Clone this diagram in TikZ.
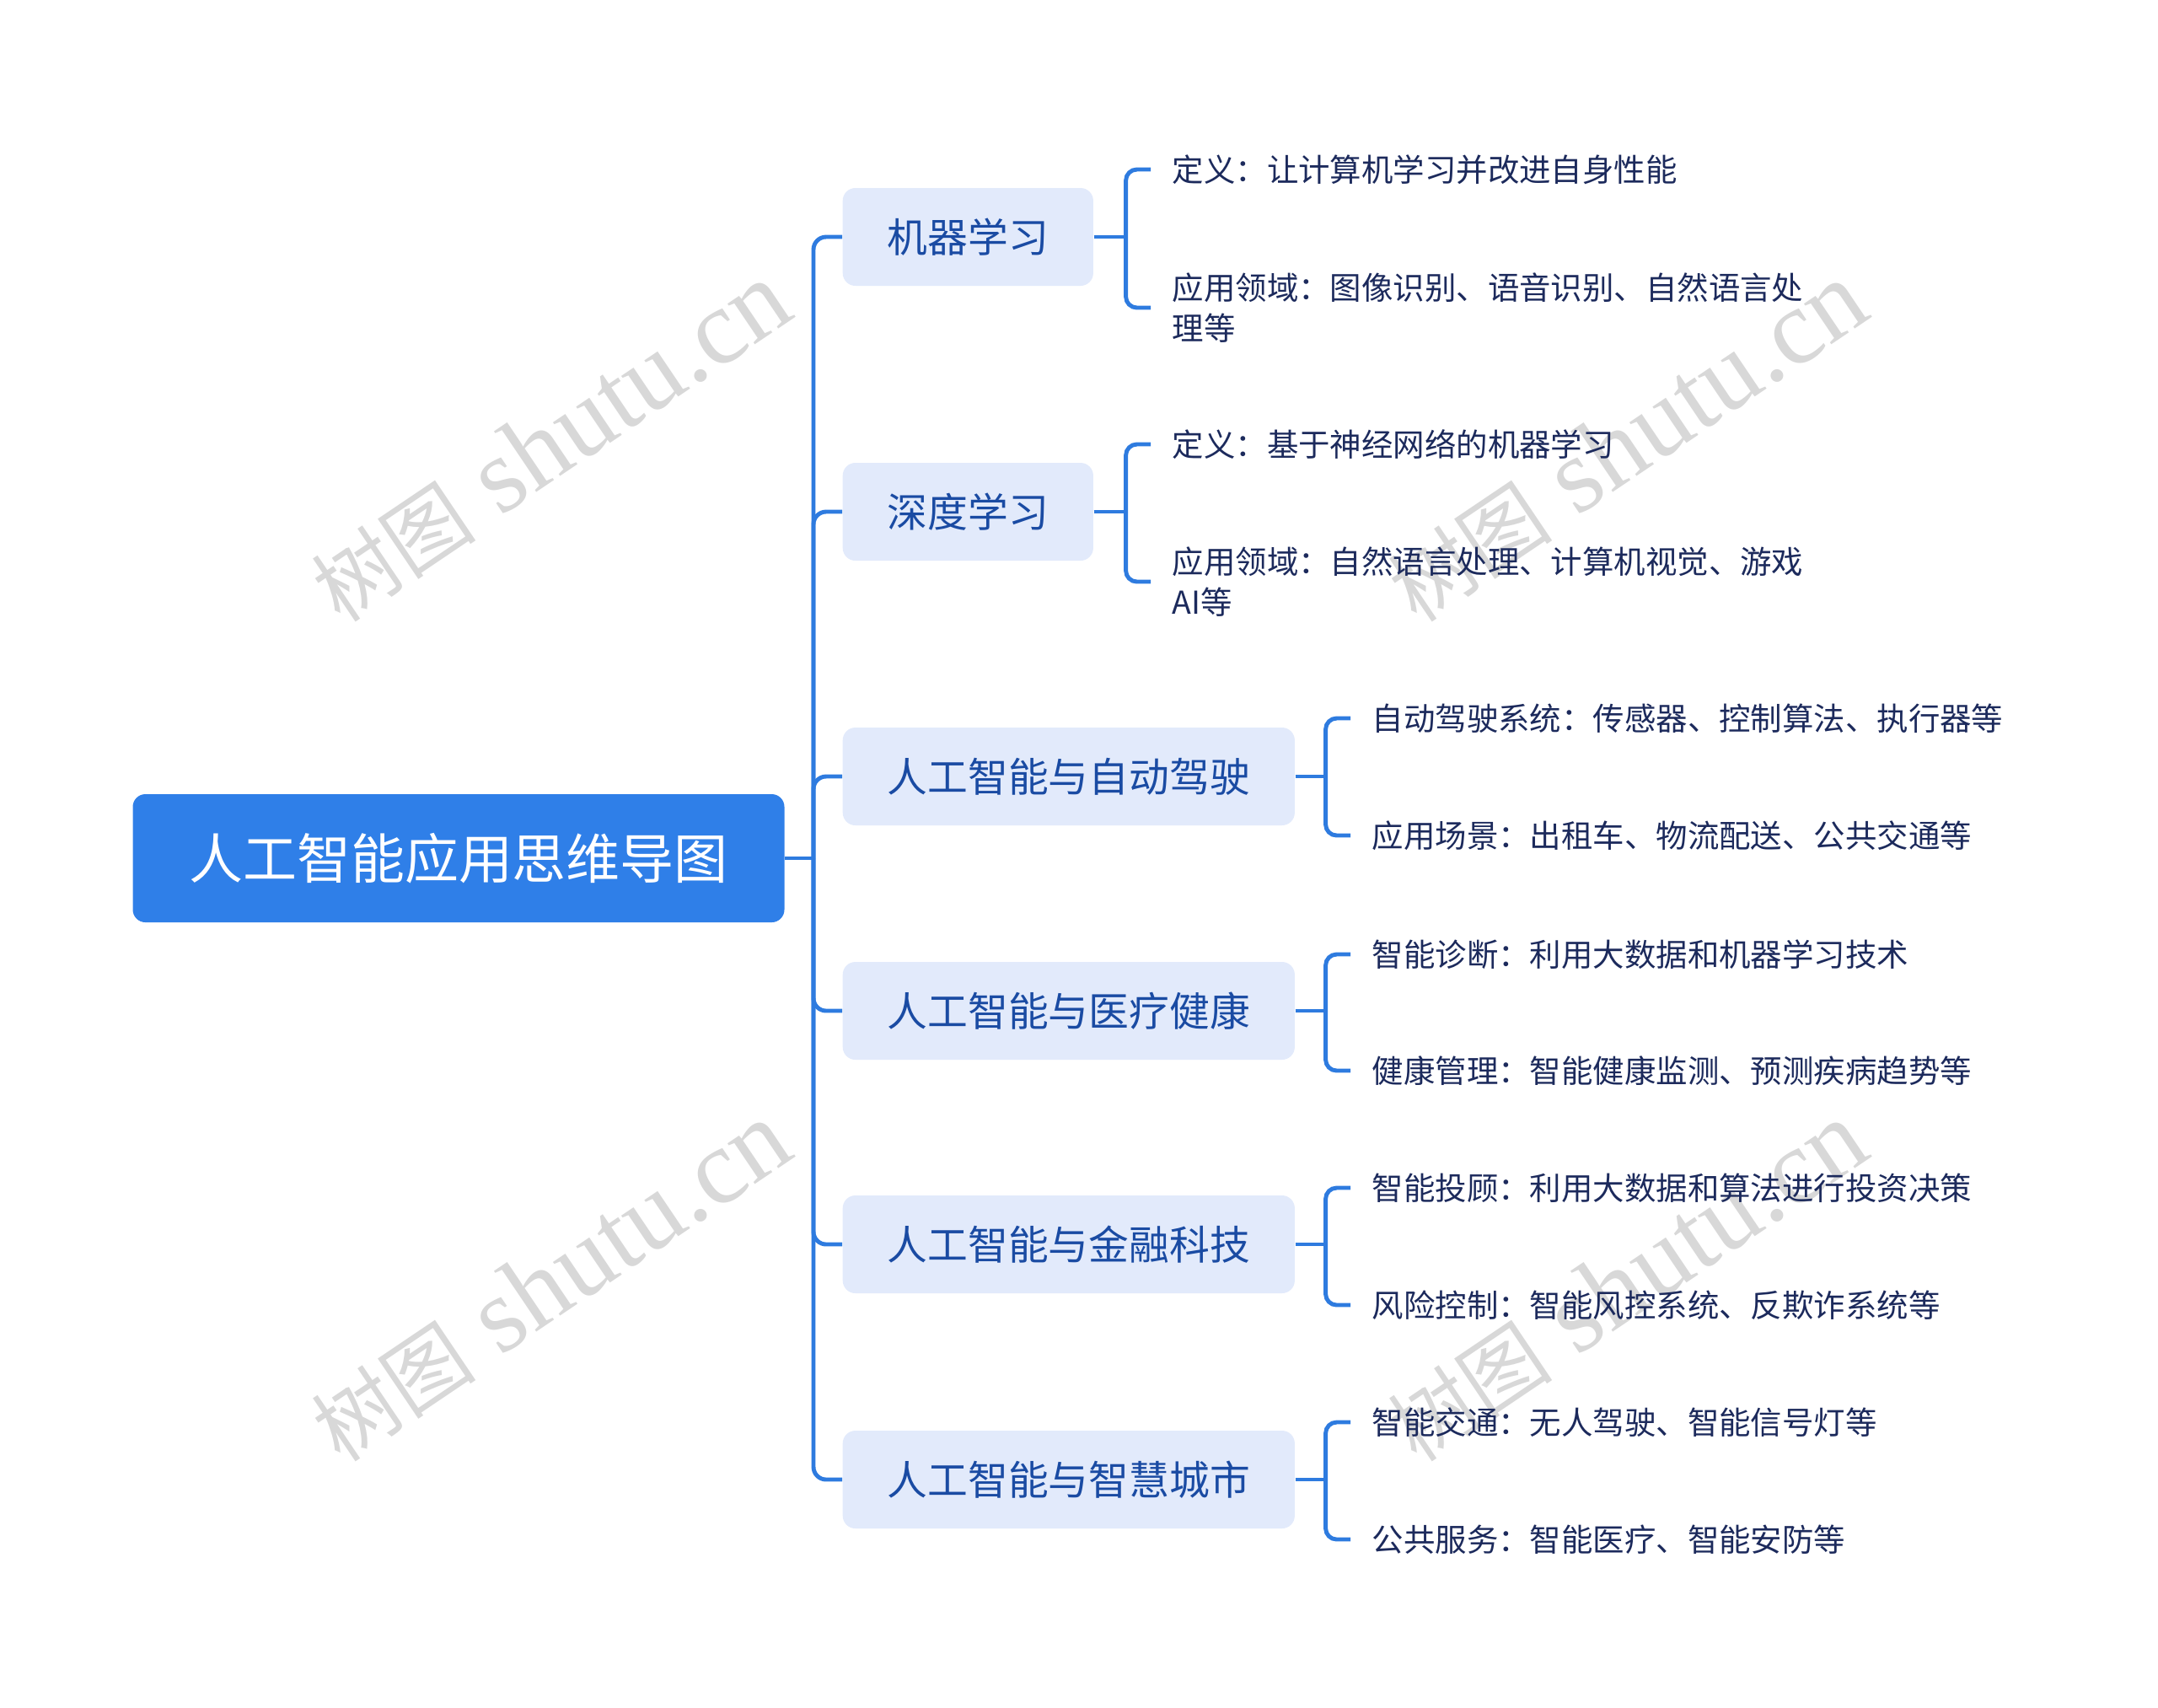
\documentclass[tikz,border=0pt]{standalone}
\usepackage{fontspec}
\newfontfamily\cjk{Noto Sans CJK SC}
\newfontfamily\wmserif{Liberation Serif}
\usetikzlibrary{positioning}
\definecolor{bleu}{HTML}{2F7FE8}
\definecolor{bleulien}{HTML}{2E7BDF}
\definecolor{fond}{HTML}{E2EAFB}
\definecolor{texteun}{HTML}{1A4BA3}
\definecolor{textedeux}{HTML}{1C2A5C}
\definecolor{gris}{HTML}{D8D8D8}
\tikzset{
    racine/.style={fill=bleu, rounded corners=0.15cm, text=white, inner sep=0pt,
      minimum width=7.73cm, minimum height=1.52cm, font=\cjk\fontsize{18.2}{22}\selectfont},
    branche/.style={fill=fond, rounded corners=0.15cm, text=texteun, anchor=west,
      inner xsep=0.53cm, minimum height=1.16cm, font=\cjk\fontsize{13.6}{16}\selectfont},
    feuille/.style={text=textedeux, anchor=west, align=left, inner xsep=0.25cm, inner ysep=0pt,
      font=\cjk\fontsize{10.65}{13.66}\selectfont},
    lien/.style={draw=bleulien, line width=1.4pt, rounded corners=0.13cm},
    filigrane/.style={text=gris, rotate=34, inner sep=0pt, font=\wmserif\fontsize{36}{40}\selectfont},
  }
\newcommand{\marque}{{\cjk\fontsize{28}{30}\selectfont 树图} shutu.cn}
\begin{document}
\begin{tikzpicture}
				  \useasboundingbox (0,0) rectangle (25.6,-20.25);
				  
				  %FILIGRANE
				  \node[filigrane] (W1) at (6.53,-5.25) {\marque};
				  \node[filigrane] (W2) at (19.30,-5.25) {\marque};
				  \node[filigrane] (W3) at (6.53,-15.21) {\marque};
				  \node[filigrane] (W4) at (19.30,-15.21) {\marque};
				  
				  %RACINE
				  \node[racine] (R) at (5.44,-10.18) {人工智能应用思维导图};
				  \coordinate (T) at (9.65,-10.18);
				  
				  %BRANCHES
				  \node[branche] (ML) at (9.99,-2.81) {机器学习};
				  \node[branche] (DL) at (9.99,-6.07) {深度学习};
				  \node[branche] (AD) at (9.99,-9.21) {人工智能与自动驾驶};
				  \node[branche] (MED) at (9.99,-11.99) {人工智能与医疗健康};
				  \node[branche] (FIN) at (9.99,-14.76) {人工智能与金融科技};
				  \node[branche] (CITY) at (9.99,-17.55) {人工智能与智慧城市};
				  
				  %FEUILLES
				  \node[feuille] (ML1) at (13.65,-2.01) {定义：让计算机学习并改进自身性能};
				  \node[feuille] (ML2) at (13.65,-3.65) {应用领域：图像识别、语音识别、自然语言处\\理等};
				  \node[feuille] (DL1) at (13.65,-5.27) {定义：基于神经网络的机器学习};
				  \node[feuille] (DL2) at (13.65,-6.90) {应用领域：自然语言处理、计算机视觉、游戏\\AI等};
				  \node[feuille] (AD1) at (16.02,-8.52) {自动驾驶系统：传感器、控制算法、执行器等};
				  \node[feuille] (AD2) at (16.02,-9.91) {应用场景：出租车、物流配送、公共交通等};
				  \node[feuille] (MED1) at (16.02,-11.32) {智能诊断：利用大数据和机器学习技术};
				  \node[feuille] (MED2) at (16.02,-12.70) {健康管理：智能健康监测、预测疾病趋势等};
				  \node[feuille] (FIN1) at (16.02,-14.09) {智能投顾：利用大数据和算法进行投资决策};
				  \node[feuille] (FIN2) at (16.02,-15.48) {风险控制：智能风控系统、反欺诈系统等};
				  \node[feuille] (CITY1) at (16.02,-16.87) {智能交通：无人驾驶、智能信号灯等};
				  \node[feuille] (CITY2) at (16.02,-18.26) {公共服务：智能医疗、智能安防等};
				  
				  %LIENS racine
				  \draw[lien] (R.east) -- (T);
				  \draw[lien, rounded corners=0.15cm] (T) |- (ML.west);
				  \draw[lien, rounded corners=0.15cm] (T) |- (DL.west);
				  \draw[lien, rounded corners=0.15cm] (T) |- (AD.west);
				  \draw[lien, rounded corners=0.15cm] (T) |- (MED.west);
				  \draw[lien, rounded corners=0.15cm] (T) |- (FIN.west);
				  \draw[lien, rounded corners=0.15cm] (T) |- (CITY.west);
				  
				  %LIENS branches
				  \draw[lien] (ML.east) -- ++(0.38,0) coordinate (MLb);
				  \draw[lien] (MLb) |- (ML1.west);
				  \draw[lien] (MLb) |- (ML2.west);
				  \draw[lien] (DL.east) -- ++(0.38,0) coordinate (DLb);
				  \draw[lien] (DLb) |- (DL1.west);
				  \draw[lien] (DLb) |- (DL2.west);
				  \draw[lien] (AD.east) -- ++(0.36,0) coordinate (ADb);
				  \draw[lien] (ADb) |- (AD1.west);
				  \draw[lien] (ADb) |- (AD2.west);
				  \draw[lien] (MED.east) -- ++(0.36,0) coordinate (MEDb);
				  \draw[lien] (MEDb) |- (MED1.west);
				  \draw[lien] (MEDb) |- (MED2.west);
				  \draw[lien] (FIN.east) -- ++(0.36,0) coordinate (FINb);
				  \draw[lien] (FINb) |- (FIN1.west);
				  \draw[lien] (FINb) |- (FIN2.west);
				  \draw[lien] (CITY.east) -- ++(0.36,0) coordinate (CITYb);
				  \draw[lien] (CITYb) |- (CITY1.west);
				  \draw[lien] (CITYb) |- (CITY2.west);
				  
				  \end{tikzpicture}
\end{document}
